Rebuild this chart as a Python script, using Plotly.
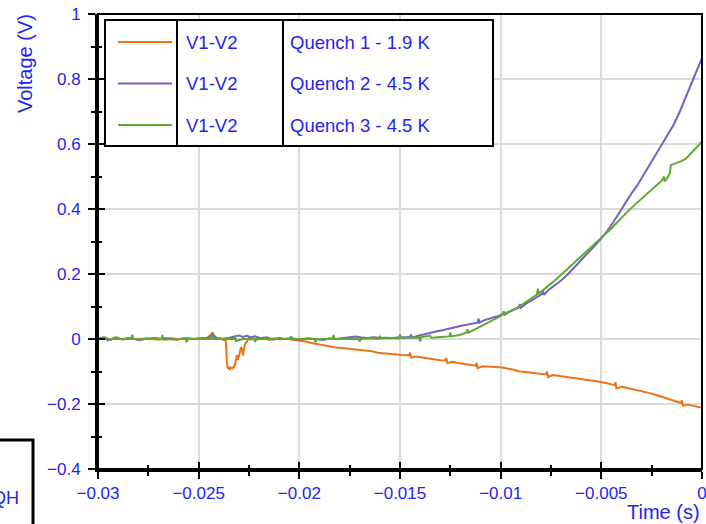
import plotly.graph_objects as go

# ---- series: differential voltage V1-V2 versus time before the quench ----
series_signal = ["V1-V2", "V1-V2", "V1-V2"]
series_labels = ["Quench 1 - 1.9 K", "Quench 2 - 4.5 K", "Quench 3 - 4.5 K"]
series_colors = ["#ec7418", "#7462c4", "#5fa834"]

# Quench 1 - 1.9 K
q1_t = [-0.0300, -0.0297, -0.0294, -0.0291, -0.0288, -0.0285, -0.0282, -0.0279, -0.0276, -0.0273,
        -0.0270, -0.0267, -0.0264, -0.0261, -0.0258, -0.0255, -0.0252, -0.0249, -0.0246, -0.02445,
        -0.0243, -0.02425, -0.0241, -0.0239,
        -0.02365, -0.0236, -0.02355, -0.0235, -0.02345, -0.0234, -0.0233, -0.0232, -0.02315, -0.0231,
        -0.02305, -0.0230, -0.02295, -0.0229, -0.02285, -0.0228, -0.02275, -0.0227, -0.0226, -0.0225,
        -0.02245, -0.0224, -0.0221, -0.0218, -0.0215, -0.0212, -0.0209, -0.0206, -0.0203, -0.0200,
        -0.0197, -0.0194, -0.0191, -0.0188, -0.0185, -0.0182, -0.0179, -0.0176, -0.0173, -0.0170,
        -0.0167, -0.0164, -0.0161, -0.0158, -0.0155, -0.0152, -0.0149, -0.01455, -0.0145, -0.01445,
        -0.0142, -0.0139, -0.0136, -0.0133, -0.0130, -0.01275, -0.0127, -0.01265, -0.0124, -0.0121,
        -0.0118, -0.0115, -0.01125, -0.0112, -0.01115, -0.0109, -0.0106, -0.0103, -0.0100, -0.0097,
        -0.0094, -0.0091, -0.0088, -0.0085, -0.0082, -0.0079, -0.00775, -0.0077, -0.00765, -0.0074,
        -0.0071, -0.0068, -0.0065, -0.0062, -0.0059, -0.0056, -0.0053, -0.0050, -0.0047, -0.00435,
        -0.0043, -0.00425, -0.0040, -0.0037, -0.0034, -0.0031, -0.0028, -0.0025, -0.0022, -0.0019,
        -0.0016, -0.0013, -0.00105, -0.0010, -0.00095, -0.0007, -0.0004, -0.0001, 0.0]
q1_v = [0.000, 0.004, -0.003, 0.006, -0.002, 0.003, 0.000, -0.004, 0.002, 0.001,
        -0.002, 0.003, 0.000, -0.003, 0.002, 0.001, -0.001, 0.003, 0.002, 0.010,
        0.020, 0.006, 0.002, 0.000,
        -0.005, -0.070, -0.092, -0.085, -0.095, -0.088, -0.090, -0.080, -0.060, -0.050,
        -0.065, -0.055, -0.040, -0.025, -0.030, -0.050, -0.030, -0.015, -0.008, 0.006,
        -0.004, 0.003, -0.002, 0.004, -0.003, 0.002, -0.001, 0.001, -0.002, -0.004,
        -0.008, -0.012, -0.016, -0.020, -0.022, -0.026, -0.028, -0.030, -0.032, -0.033,
        -0.036, -0.038, -0.042, -0.044, -0.045, -0.047, -0.049, -0.050, -0.042, -0.057,
        -0.054, -0.057, -0.060, -0.062, -0.065, -0.066, -0.058, -0.074, -0.070, -0.074,
        -0.077, -0.080, -0.082, -0.074, -0.090, -0.084, -0.086, -0.086, -0.087, -0.090,
        -0.094, -0.099, -0.101, -0.103, -0.105, -0.107, -0.109, -0.100, -0.117, -0.111,
        -0.114, -0.116, -0.118, -0.121, -0.124, -0.127, -0.129, -0.132, -0.136, -0.142,
        -0.133, -0.152, -0.147, -0.151, -0.155, -0.159, -0.163, -0.168, -0.174, -0.180,
        -0.186, -0.192, -0.197, -0.189, -0.205, -0.202, -0.206, -0.210, -0.212]

# Quench 2 - 4.5 K
q2_t = [-0.0300, -0.0297, -0.0295, -0.0292, -0.0288, -0.0284, -0.0280, -0.0276, -0.0272, -0.0268,
        -0.0264, -0.0260, -0.0256, -0.0252, -0.0248, -0.0245, -0.0243, -0.0241, -0.0238, -0.0235,
        -0.0232, -0.0230, -0.0228, -0.0226, -0.0224, -0.0222, -0.0219, -0.0216, -0.0213, -0.0210,
        -0.0207, -0.0204, -0.0200, -0.0196, -0.0192, -0.0188, -0.0185, -0.0182, -0.0178, -0.0175,
        -0.0172, -0.0169, -0.0166, -0.0163, -0.0160, -0.0157, -0.0154, -0.0151,
        -0.0148, -0.0145, -0.01445, -0.0144, -0.0141, -0.0138, -0.0135, -0.0132, -0.0129, -0.0126,
        -0.0123, -0.0120, -0.0117, -0.0114, -0.01115, -0.0111, -0.01105, -0.0108, -0.0105, -0.0102,
        -0.0099, -0.0096, -0.0093, -0.0091, -0.00905, -0.0090, -0.0087, -0.0084, -0.0081, -0.00795,
        -0.0079, -0.00785, -0.0076, -0.0073, -0.0070, -0.0067, -0.0064, -0.0061, -0.0058, -0.0055,
        -0.0052, -0.0050, -0.0047, -0.0044, -0.0041, -0.0038, -0.0035, -0.0032, -0.0029, -0.0026,
        -0.0023, -0.0020, -0.0017, -0.0014, -0.0011, -0.0008, -0.0005, -0.0002, 0.0]
q2_v = [0.000, 0.004, -0.004, 0.002, 0.000, 0.003, -0.002, 0.001, 0.003, 0.000,
        0.002, -0.001, 0.002, 0.000, 0.003, 0.004, 0.014, 0.003, 0.001, 0.003,
        0.008, 0.011, 0.006, 0.010, 0.005, 0.008, 0.002, 0.005, -0.002, 0.003,
        0.000, 0.003, -0.002, 0.002, 0.000, -0.003, 0.002, 0.000, 0.003, 0.006,
        0.008, 0.005, 0.003, 0.005, 0.003, 0.004, 0.003, 0.005,
        0.006, 0.006, 0.014, 0.004, 0.010, 0.015, 0.020, 0.023, 0.027, 0.032,
        0.036, 0.040, 0.044, 0.048, 0.050, 0.062, 0.050, 0.058, 0.063, 0.069,
        0.076, 0.083, 0.091, 0.096, 0.108, 0.096, 0.110, 0.121, 0.132, 0.138,
        0.150, 0.136, 0.152, 0.166, 0.180, 0.197, 0.215, 0.236, 0.256, 0.275,
        0.295, 0.310, 0.333, 0.360, 0.390, 0.420, 0.448, 0.474, 0.505, 0.535,
        0.565, 0.595, 0.627, 0.660, 0.700, 0.745, 0.790, 0.835, 0.865]

# Quench 3 - 4.5 K
q3_t = [-0.0300, -0.0297, -0.0295, -0.0290, -0.02835, -0.0283, -0.02825, -0.0276, -0.0270, -0.02685,
        -0.0268, -0.02675, -0.0262, -0.02565, -0.0256, -0.02555, -0.0250, -0.02435, -0.0243, -0.02425,
        -0.0238, -0.02325, -0.0232, -0.02315, -0.0228, -0.02225, -0.0222, -0.02215, -0.0215, -0.02045,
        -0.0204, -0.02035, -0.0198, -0.01925, -0.0192, -0.01915, -0.01835, -0.0183, -0.01825, -0.0176,
        -0.01705, -0.0170, -0.01695, -0.0165, -0.01605, -0.0160, -0.01595, -0.0155, -0.01505, -0.0150,
        -0.01495, -0.0145, -0.01405, -0.0140, -0.01395, -0.0135, -0.01345, -0.0130, -0.01255, -0.0125,
        -0.01245, -0.0120, -0.0117, -0.01165, -0.0116, -0.0114, -0.0111, -0.0108, -0.0105, -0.0102,
        -0.0099, -0.00985, -0.0098, -0.0096, -0.0093, -0.0090, -0.0087, -0.0084, -0.0082, -0.00815,
        -0.0081, -0.0078, -0.0075, -0.0072, -0.0069, -0.0066, -0.0063, -0.0060, -0.0057, -0.0054,
        -0.0051, -0.0048, -0.0045, -0.0042, -0.0039, -0.0036, -0.0033, -0.0030, -0.0027, -0.0024,
        -0.0021, -0.00195, -0.0019, -0.00185, -0.0017, -0.0016, -0.00155, -0.0013, -0.0010, -0.0008,
        -0.0006, -0.0004, -0.0002, 0.0]
q3_v = [0.000, 0.006, 0.000, 0.001, 0.000, 0.013, 0.000, 0.001, -0.001, 0.000,
        0.012, -0.002, 0.000, 0.000, -0.010, 0.000, 0.001, 0.000, 0.012, 0.000,
        0.000, 0.000, 0.010, -0.006, 0.000, 0.000, -0.009, 0.000, 0.001, 0.000,
        0.008, 0.000, 0.000, 0.000, -0.010, 0.000, 0.000, 0.012, 0.000, 0.001,
        0.000, -0.008, 0.000, 0.002, 0.000, 0.010, 0.002, 0.003, 0.002, 0.014,
        0.003, 0.004, 0.005, -0.008, 0.006, 0.010, 0.004, 0.006, 0.008, 0.020,
        0.008, 0.013, 0.020, 0.030, 0.020, 0.026, 0.035, 0.045, 0.055, 0.064,
        0.075, 0.085, 0.075, 0.083, 0.093, 0.103, 0.115, 0.128, 0.137, 0.155,
        0.140, 0.155, 0.170, 0.186, 0.203, 0.220, 0.236, 0.252, 0.270, 0.287,
        0.305, 0.322, 0.340, 0.360, 0.380, 0.398, 0.415, 0.432, 0.450, 0.466,
        0.482, 0.490, 0.500, 0.485, 0.498, 0.510, 0.535, 0.540, 0.548, 0.555,
        0.568, 0.583, 0.597, 0.607]

# ---- axes ----
x_tick_vals = [-0.03, -0.025, -0.02, -0.015, -0.01, -0.005, 0]
x_tick_text = ["\u22120.03", "\u22120.025", "\u22120.02", "\u22120.015", "\u22120.01", "\u22120.005", "0"]
x_minor_vals = [-0.0275, -0.0225, -0.0175, -0.0125, -0.0075, -0.0025]
y_tick_vals = [-0.4, -0.2, 0, 0.2, 0.4, 0.6, 0.8, 1]
y_tick_text = ["\u22120.4", "\u22120.2", "0", "0.2", "0.4", "0.6", "0.8", "1"]
y_minor_vals = [-0.3, -0.1, 0.1, 0.3, 0.5, 0.7, 0.9]

BLUE = "#2323f5"
FONT = "Liberation Sans, Arial, sans-serif"
W, H = 706, 524
ML, MR, MT, MB = 98, 4, 14, 55
PW, PH = W - ML - MR, H - MT - MB


def pxx(x):
    """Pixel column -> paper x."""
    return (x - ML) / PW


def pxy(y):
    """Pixel row -> paper y."""
    return (MT + PH - y) / PH


fig = go.Figure()
for t, v, c in [(q1_t, q1_v, series_colors[0]),
                (q2_t, q2_v, series_colors[1]),
                (q3_t, q3_v, series_colors[2])]:
    fig.add_trace(go.Scatter(x=t, y=v, mode="lines", line=dict(color=c, width=2),
                             showlegend=False, hoverinfo="skip"))

# companion axes that carry the inward half of every tick
fig.add_trace(go.Scatter(x=[], y=[], xaxis="x2", yaxis="y2", showlegend=False))

tick_font = dict(family=FONT, size=17, color=BLUE)
common = dict(showline=True, linecolor="black", linewidth=3, zeroline=False,
              ticklen=7, tickwidth=2, tickcolor="black", tickfont=tick_font,
              ticklabeloverflow="allow", automargin=False)

fig.update_layout(
    width=W, height=H,
    margin=dict(l=ML, r=MR, t=MT, b=MB, autoexpand=False),
    paper_bgcolor="white", plot_bgcolor="white",
    xaxis=dict(range=[-0.03, 0], tickmode="array", tickvals=x_tick_vals, ticktext=x_tick_text,
               ticks="outside", showgrid=True, gridcolor="#dadada", gridwidth=1.5,
               minor=dict(tickmode="array", tickvals=x_minor_vals, ticks="outside",
                          ticklen=4, tickwidth=2, tickcolor="black", showgrid=False),
               **common),
    yaxis=dict(range=[-0.4, 1], tickmode="array", tickvals=y_tick_vals, ticktext=y_tick_text,
               ticks="outside", showgrid=True, gridcolor="#dadada", gridwidth=1.5,
               ticklabelstandoff=4,
               minor=dict(tickmode="array", tickvals=y_minor_vals, ticks="outside",
                          ticklen=4, tickwidth=2, tickcolor="black", showgrid=False),
               **common),
    xaxis2=dict(range=[-0.03, 0], overlaying="x", anchor="y2", side="bottom",
                tickmode="array", tickvals=x_tick_vals, showticklabels=False,
                ticks="inside", ticklen=7, tickwidth=2, tickcolor="black",
                showgrid=False, showline=False, zeroline=False, automargin=False,
                minor=dict(tickmode="array", tickvals=x_minor_vals, ticks="inside",
                           ticklen=4, tickwidth=2, tickcolor="black", showgrid=False)),
    yaxis2=dict(range=[-0.4, 1], overlaying="y", anchor="x2", side="left",
                tickmode="array", tickvals=y_tick_vals, showticklabels=False,
                ticks="inside", ticklen=7, tickwidth=2, tickcolor="black",
                showgrid=False, showline=False, zeroline=False, automargin=False,
                minor=dict(tickmode="array", tickvals=y_minor_vals, ticks="inside",
                           ticklen=4, tickwidth=2, tickcolor="black", showgrid=False)),
)

shapes = []
annotations = []

# thin frame around the plot area
shapes.append(dict(type="rect", xref="paper", yref="paper", x0=0, x1=1, y0=0, y1=1,
                   line=dict(color="black", width=2), layer="above"))

# legend table: sample line | signal | run description
lg_x0, lg_x1, lg_y0, lg_y1 = 105, 493, 20, 146
col1, col2 = 177, 283
rows = [42, 83.5, 125]
shapes.append(dict(type="rect", xref="paper", yref="paper",
                   x0=pxx(lg_x0), x1=pxx(lg_x1), y0=pxy(lg_y1), y1=pxy(lg_y0),
                   line=dict(color="black", width=2), fillcolor="white", layer="above"))
for cx in (col1, col2):
    shapes.append(dict(type="line", xref="paper", yref="paper",
                       x0=pxx(cx), x1=pxx(cx), y0=pxy(lg_y1), y1=pxy(lg_y0),
                       line=dict(color="black", width=2), layer="above"))
for ry, sig, lab, c in zip(rows, series_signal, series_labels, series_colors):
    shapes.append(dict(type="line", xref="paper", yref="paper",
                       x0=pxx(118), x1=pxx(172), y0=pxy(ry), y1=pxy(ry),
                       line=dict(color=c, width=2), layer="above"))
    annotations.append(dict(xref="paper", yref="paper", x=pxx(184), y=pxy(ry),
                            xanchor="left", yanchor="middle", text=sig, showarrow=False,
                            font=dict(family=FONT, size=18.5, color=BLUE)))
    annotations.append(dict(xref="paper", yref="paper", x=pxx(288), y=pxy(ry),
                            xanchor="left", yanchor="middle", text=lab, showarrow=False,
                            font=dict(family=FONT, size=18.5, color=BLUE)))

# partly visible neighbouring panel at the lower left
shapes.append(dict(type="rect", xref="paper", yref="paper",
                   x0=pxx(-20), x1=pxx(33), y0=pxy(560), y1=pxy(440),
                   line=dict(color="black", width=3), layer="above"))
annotations.append(dict(xref="paper", yref="paper", x=pxx(21), y=pxy(498),
                        xanchor="right", yanchor="middle", text="QH", showarrow=False,
                        font=dict(family=FONT, size=18, color=BLUE)))

# axis titles
annotations.append(dict(xref="paper", yref="paper", x=pxx(25), y=pxy(64),
                        xanchor="center", yanchor="middle", text="Voltage (V)", textangle=-90,
                        showarrow=False, font=dict(family=FONT, size=20, color=BLUE)))
annotations.append(dict(xref="paper", yref="paper", x=pxx(702), y=pxy(512),
                        xanchor="right", yanchor="middle", text="Time (s)",
                        showarrow=False, font=dict(family=FONT, size=20, color=BLUE)))

fig.update_layout(shapes=shapes, annotations=annotations)
fig.write_html("out.html")
